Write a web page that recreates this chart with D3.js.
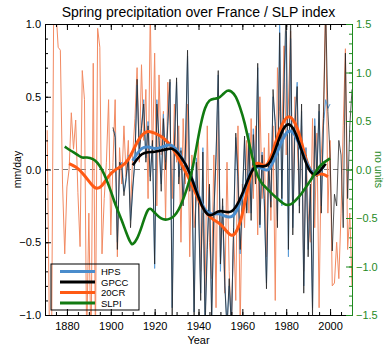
<!DOCTYPE html>
<html>
<head>
<meta charset="utf-8">
<script src="https://cdn.jsdelivr.net/npm/d3@7"></script>
<style>
  body { margin: 0; background: #fff; }
  svg { font-family: "Liberation Sans", Arial, sans-serif; }
</style>
</head>
<body>
<div id="graph"></div>
<script>
// annual series (mm/day)
var cr20Start = 1871;
var cr20 = [0.27, -1.1, -1.2, 1.2, 1.1, 0.84, 0.82, -0.10, -0.58, -0.12,
    0.0, 0.39, 0.14, 0.34, -0.16, -0.53, 0.68, 0.48, -1.2, -0.3,
    -1.3, 0.73, -1.2, 0.97, 0.84, -0.58, -0.2, 0.05, 0.48, -0.45,
    0.05, 0.48, -0.60, 0.15, -0.10, 0.30, -0.05, 0.20, -0.30, 0.10,
    0.35, 0.70, 0.05, 0.72, 0.20, 0.55, -0.20, 1.10, 0.05, 0.80,
    -0.25, 0.65, 0.10, 0.40, -0.35, 0.60, 0.30, -0.20, 0.45, 0.05,
    0.30, -0.50, 0.35, -0.10, 0.45, -0.60, 0.10, -0.40, -0.20, 0.20,
    -0.70, -0.30, -0.90, 0.30, -0.50, -0.75, 0.10, -0.95, 0.40, -0.60,
    -0.30, -0.85, 0.05, -0.70, -1.10, -0.40, -0.90, 0.30, -1.10, -0.10,
    -0.40, 0.20, -0.30, 0.35, -0.20, 0.30, -0.45, 0.50, -0.20, 0.15,
    -0.60, 0.25, -0.35, 0.30, -0.90, 0.70, 0.40, 0.20, 0.85, 0.10,
    0.45, 0.95, -0.30, 0.50, 0.20, -0.20, 0.30, -0.70, 0.15, -0.30,
    -0.50, 0.35, -0.40, 0.25, -0.95, 0.10, 0.40, 1.20, -0.30, 0.20,
    -0.80, -0.78, -0.50, -0.75, -0.30, 0.30, 0.83, -0.55, -0.30, -0.80];

var gpccStart = 1901;
var gpcc = [0.29, 0.22, -0.55, 0.05, 0.02, -0.18, -0.05, 0.08, -0.40, -0.12,
    0.05, 0.62, 0.10, 0.28, 0.45, 0.05, 0.30, -0.08, 0.20, -0.65,
    0.45, 0.20, -0.15, 0.35, 0.00, 0.30, 0.62, -1.05, 0.15, 0.63,
    -0.10, 0.13, -0.25, 0.10, 0.82, -0.15, 0.00, -1.05, 0.05, -0.25,
    -0.90, 0.12, -1.10, -0.55, -0.10, -1.05, -0.30, 0.10, 0.68, -0.65,
    -0.20, -0.80, -1.10, -0.75, -1.10, -0.40, 0.25, -0.05, -0.55, -0.20,
    0.23, -0.30, 0.20, -0.35, 0.24, -0.10, 0.73, -0.38, 0.10, -0.20,
    -0.82, 0.05, -0.26, 0.55, 0.30, -0.40, 0.94, -0.20, 0.60, 1.15,
    -0.55, 1.10, -0.45, 0.30, 0.57, -0.30, 0.45, -0.85, 0.10, -0.60,
    -0.10, -1.00, 0.30, -0.05, 0.45, -0.30, 0.35, 1.10, 0.40, 0.10,
    -0.56, -0.17, -0.25, 0.20, 0.10, -0.40, 0.80, -0.20, 0.30, 0.55];

var hpsStart = 1901;
var hps = [0.27, 0.25, -0.50, 0.02, 0.05, -0.15, -0.08, 0.10, -0.35, -0.15,
    0.08, 0.58, 0.14, 0.30, 0.48, 0.08, 0.33, -0.05, 0.18, -0.68,
    0.48, 0.22, -0.10, 0.38, 0.05, 0.33, 0.60, -0.95, 0.18, 0.60,
    -0.05, 0.15, -0.20, 0.12, 0.78, -0.10, 0.02, -0.98, 0.08, -0.22,
    -0.85, 0.15, -1.05, -0.50, -0.12, -1.00, -0.33, 0.08, 0.65, -0.70,
    -0.25, -0.78, -1.08, -0.80, -1.05, -0.45, 0.22, -0.10, -0.58, -0.22,
    0.20, -0.28, 0.25, -0.30, 0.28, -0.05, 0.70, -0.40, 0.12, -0.25,
    -0.78, 0.02, -0.22, 0.50, 0.33, -0.35, 1.02, -0.25, 0.55, 0.95,
    -0.60, 0.90, -0.40, 0.35, 0.60, -0.25, 0.40, -0.80, 0.15, -0.55,
    -0.12, -0.95, 0.35, 0.00, 0.40, -0.25, 0.30, 0.48, 0.42, 0.45];

// smoothed curves (year, value)
var cr20SmYears = [1881, 1884, 1887, 1890, 1893, 1896, 1899, 1902, 1905, 1908, 1911, 1914, 1917, 1920,
    1923, 1926, 1929, 1932, 1935, 1938, 1941, 1944, 1947, 1950, 1953, 1955, 1957, 1959, 1961,
    1963, 1965, 1967, 1969, 1971, 1973, 1975, 1977, 1979, 1981, 1983, 1985, 1987, 1989, 1991,
    1993, 1995, 1997, 1999];
var cr20Sm = [0.04, 0.02, -0.02, -0.08, -0.14, -0.12, -0.04, 0.0, 0.02, 0.06, 0.16, 0.24, 0.27, 0.25,
    0.23, 0.19, 0.13, 0.045, -0.04, -0.14, -0.24, -0.31, -0.35, -0.37, -0.43, -0.46, -0.44, -0.37, -0.24,
    -0.08, 0.03, 0.05, 0.03, 0.02, 0.08, 0.18, 0.27, 0.34, 0.37, 0.35, 0.29, 0.19, 0.07, -0.01,
    -0.04, -0.03, -0.03, -0.05];

var hpsSmYears = [1910, 1912, 1914, 1917, 1920, 1923, 1926, 1928, 1931, 1934, 1937, 1940, 1943, 1946,
    1949, 1952, 1954, 1956, 1958, 1961, 1964, 1967, 1970, 1972, 1975, 1978, 1981, 1984, 1987,
    1990, 1993, 1996, 1997];
var hpsSm = [0.06, 0.11, 0.15, 0.16, 0.14, 0.15, 0.17, 0.17, 0.12, 0.04, -0.06, -0.18, -0.29, -0.31,
    -0.30, -0.32, -0.33, -0.32, -0.27, -0.14, 0.01, 0.02, 0.0, -0.015, 0.08, 0.20, 0.28, 0.25, 0.13,
    0.02, -0.05, 0.0, 0.02];

var gpccSmYears = [1910, 1912, 1914, 1917, 1920, 1923, 1926, 1928, 1931, 1934, 1936, 1939, 1942, 1944,
    1946, 1949, 1952, 1955, 1958, 1961, 1964, 1966, 1969, 1972, 1975, 1978, 1981, 1984, 1987,
    1990, 1993, 1996, 1998];
var gpccSm = [0.03, 0.07, 0.11, 0.12, 0.12, 0.13, 0.14, 0.15, 0.11, 0.04, -0.02, -0.15, -0.27, -0.31,
    -0.32, -0.28, -0.29, -0.30, -0.24, -0.13, -0.015, 0.03, 0.02, 0.02, 0.13, 0.27, 0.33, 0.27, 0.13,
    0.0, -0.05, 0.0, 0.04];

// SLP index (no units, right axis)
var slpiYears = [1879, 1882, 1885, 1887, 1889, 1892, 1894, 1896, 1898, 1900, 1902, 1905, 1907, 1909,
    1910, 1912, 1914, 1917, 1919, 1921, 1923, 1925, 1927, 1929, 1931, 1933, 1935, 1937, 1939,
    1941, 1943, 1945, 1947, 1949, 1951, 1953, 1955, 1957, 1959, 1961, 1963, 1965, 1967, 1969,
    1971, 1973, 1975, 1977, 1979, 1981, 1983, 1985, 1987, 1989, 1991, 1993, 1995, 1997, 1999, 2000];
var slpi = [0.235, 0.19, 0.15, 0.115, 0.13, 0.11, 0.07, 0.0, -0.10, -0.22, -0.36, -0.52, -0.65, -0.76,
    -0.78, -0.72, -0.60, -0.38, -0.42, -0.47, -0.51, -0.52, -0.51, -0.48, -0.42, -0.31, -0.18, -0.03, 0.22,
    0.47, 0.65, 0.72, 0.73, 0.73, 0.77, 0.82, 0.81, 0.76, 0.64, 0.49, 0.28, 0.08, -0.08, -0.15,
    -0.19, -0.24, -0.28, -0.32, -0.36, -0.37, -0.35, -0.30, -0.25, -0.18, -0.12, -0.04, 0.03, 0.07, 0.10, 0.115];

var xMajor = [1880, 1900, 1920, 1940, 1960, 1980, 2000];
var yMajor = [-1.0, -0.5, 0.0, 0.5, 1.0];
var y2Major = [-1.5, -1.0, -0.5, 0.0, 0.5, 1.0, 1.5];
var legendNames = ["HPS", "GPCC", "20CR", "SLPI"];

function dessin() {
    "use strict";
    var W = 385, H = 345,
        left = 45, right = 352, top = 24, bottom = 315,
        vert = "#1f8a1f",
        c_hps = "#4a8ccc", c_gpcc = "#000000", c_cr = "#ff5a14", c_slpi = "#117a11",
        c_hpsThin = "#5a9bd6", c_gpccThin = "#222222", c_crThin = "#f28a62",

        svg = d3.select("#graph").append("svg")
            .attr("width", W).attr("height", H),

        x = d3.scaleLinear().domain([1870, 2010]).range([left, right]),
        y = d3.scaleLinear().domain([-1, 1]).range([bottom, top]),
        y2 = d3.scaleLinear().domain([-1.5, 1.5]).range([bottom, top]),
        fmt = d3.format(".1f");

    function annual(start, vals) {
        return vals.map(function (v, i) { return {year: start + i, v: v}; });
    }
    function paired(years, vals) {
        return years.map(function (yr, i) { return {year: yr, v: vals[i]}; });
    }
    function range(a, b, s) {
        var r = [], i, n = Math.round((b - a) / s);
        for (i = 0; i <= n; i += 1) { r.push(+(a + i * s).toFixed(2)); }
        return r;
    }

    svg.append("defs").append("clipPath").attr("id", "clip")
        .append("rect").attr("x", left).attr("y", top)
        .attr("width", right - left).attr("height", bottom - top);

    // title
    svg.append("text")
        .attr("x", (left + right) / 2).attr("y", 17)
        .attr("text-anchor", "middle")
        .style("font-size", "14px")
        .text("Spring precipitation over France / SLP index");

    var plot = svg.append("g").attr("clip-path", "url(#clip)");

    // zero line
    plot.append("line")
        .attr("x1", left).attr("x2", right)
        .attr("y1", y(0)).attr("y2", y(0))
        .attr("stroke", "#777").attr("stroke-width", 1)
        .attr("stroke-dasharray", "5,4");

    var line = d3.line()
        .x(function (d) { return x(d.year); })
        .y(function (d) { return y(d.v); });
    var smooth = d3.line().curve(d3.curveBasis)
        .x(function (d) { return x(d.year); })
        .y(function (d) { return y(d.v); });
    var smooth2 = d3.line().curve(d3.curveBasis)
        .x(function (d) { return x(d.year); })
        .y(function (d) { return y2(d.v); });

    plot.append("path").datum(annual(cr20Start, cr20))
        .attr("fill", "none").attr("stroke", c_crThin).attr("stroke-width", 1)
        .attr("d", line);
    plot.append("path").datum(annual(hpsStart, hps))
        .attr("fill", "none").attr("stroke", c_hpsThin).attr("stroke-width", 1)
        .attr("d", line);
    plot.append("path").datum(annual(gpccStart, gpcc))
        .attr("fill", "none").attr("stroke", c_gpccThin).attr("stroke-width", 0.9)
        .attr("stroke-opacity", 0.85)
        .attr("d", line);

    plot.append("path").datum(paired(cr20SmYears, cr20Sm))
        .attr("fill", "none").attr("stroke", c_cr).attr("stroke-width", 3)
        .attr("d", smooth);
    plot.append("path").datum(paired(hpsSmYears, hpsSm))
        .attr("fill", "none").attr("stroke", c_hps).attr("stroke-width", 3)
        .attr("d", smooth);
    plot.append("path").datum(paired(gpccSmYears, gpccSm))
        .attr("fill", "none").attr("stroke", c_gpcc).attr("stroke-width", 2.6)
        .attr("d", smooth);
    plot.append("path").datum(paired(slpiYears, slpi))
        .attr("fill", "none").attr("stroke", c_slpi).attr("stroke-width", 2.6)
        .attr("d", smooth2);

    // axes, ticks pointing inward
    function styleAxis(g, col) {
        g.selectAll("path.domain").attr("stroke", col);
        g.selectAll(".tick line").attr("stroke", col);
        g.selectAll(".tick text").attr("fill", col).style("font-size", "11px")
            .style("font-family", "'Liberation Sans', Arial, sans-serif");
    }

    svg.append("g").attr("transform", "translate(0," + bottom + ")")
        .call(d3.axisBottom(x).tickValues(xMajor).tickFormat(d3.format("d"))
            .tickSizeInner(-6).tickSizeOuter(0).tickPadding(7))
        .call(styleAxis, "#000");
    svg.append("g").attr("transform", "translate(0," + bottom + ")")
        .call(d3.axisBottom(x).tickValues(range(1870, 2010, 5)).tickFormat("")
            .tickSizeInner(-3).tickSizeOuter(0))
        .call(styleAxis, "#000");

    svg.append("g").attr("transform", "translate(0," + top + ")")
        .call(d3.axisTop(x).tickValues(xMajor).tickFormat("")
            .tickSizeInner(-6).tickSizeOuter(0))
        .call(styleAxis, "#000");
    svg.append("g").attr("transform", "translate(0," + top + ")")
        .call(d3.axisTop(x).tickValues(range(1870, 2010, 5)).tickFormat("")
            .tickSizeInner(-3).tickSizeOuter(0))
        .call(styleAxis, "#000");

    svg.append("g").attr("transform", "translate(" + left + ",0)")
        .call(d3.axisLeft(y).tickValues(yMajor).tickFormat(fmt)
            .tickSizeInner(-6).tickSizeOuter(0).tickPadding(4))
        .call(styleAxis, "#000");
    svg.append("g").attr("transform", "translate(" + left + ",0)")
        .call(d3.axisLeft(y).tickValues(range(-1, 1, 0.1)).tickFormat("")
            .tickSizeInner(-3).tickSizeOuter(0))
        .call(styleAxis, "#000");

    svg.append("g").attr("transform", "translate(" + right + ",0)")
        .call(d3.axisRight(y2).tickValues(y2Major).tickFormat(fmt)
            .tickSizeInner(-6).tickSizeOuter(0).tickPadding(4))
        .call(styleAxis, vert);
    svg.append("g").attr("transform", "translate(" + right + ",0)")
        .call(d3.axisRight(y2).tickValues(range(-1.5, 1.5, 0.1)).tickFormat("")
            .tickSizeInner(-3).tickSizeOuter(0))
        .call(styleAxis, vert);

    // axis titles
    svg.append("text")
        .attr("transform", "translate(21," + y(0) + ") rotate(-90)")
        .attr("text-anchor", "middle")
        .style("font-size", "10.5px")
        .text("mm/day");
    svg.append("text")
        .attr("transform", "translate(375," + y(0) + ") rotate(90)")
        .attr("text-anchor", "middle")
        .attr("fill", vert)
        .style("font-size", "10.5px")
        .text("no units");
    svg.append("text")
        .attr("x", (left + right) / 2).attr("y", 344)
        .attr("text-anchor", "middle")
        .style("font-size", "11px")
        .text("Year");

    // legend
    var cols = [c_hps, c_gpcc, c_cr, c_slpi],
        lg = svg.append("g");
    lg.append("rect")
        .attr("x", 51).attr("y", 264).attr("width", 88).attr("height", 46)
        .attr("fill", "none").attr("stroke", "#000").attr("stroke-width", 1);
    legendNames.forEach(function (n, i) {
        var yy = 271.5 + i * 10.5;
        lg.append("line")
            .attr("x1", 60).attr("x2", 95).attr("y1", yy).attr("y2", yy)
            .attr("stroke", cols[i]).attr("stroke-width", 3);
        lg.append("text")
            .attr("x", 101).attr("y", yy + 3.5)
            .style("font-size", "9.5px")
            .text(n);
    });
}

dessin();
</script>
</body>
</html>
